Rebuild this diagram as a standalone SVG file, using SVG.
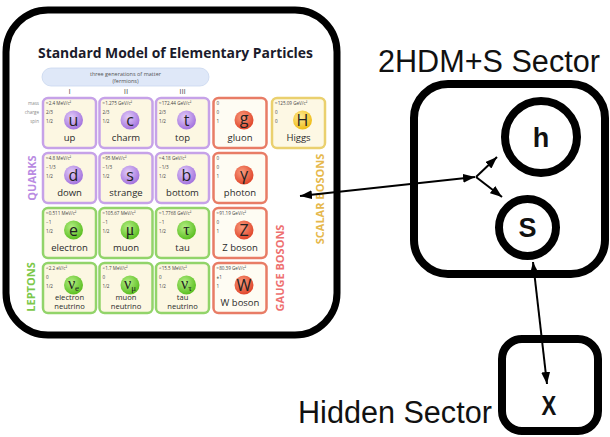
<svg xmlns="http://www.w3.org/2000/svg" width="610" height="437" viewBox="0 0 610 437">
<style>
.frame{fill:none;stroke:#000;stroke-width:7}
.frame8{fill:#fff;stroke:#000;stroke-width:8}
.big{font-family:"Liberation Sans",Arial,sans-serif;font-size:30.6px;fill:#111}
.sym2{font-family:"Liberation Sans",Arial,sans-serif;font-weight:bold;font-size:27px;fill:#111;text-anchor:middle}
.title{font-family:"Open Sans","Noto Sans",sans-serif;font-weight:bold;font-size:14.5px;fill:#1b1b2b}
.gen{font-family:"Open Sans","Noto Sans",sans-serif;font-size:5.5px;fill:#555;text-anchor:middle}
.rom{font-family:"Open Sans","Noto Sans",sans-serif;font-size:8px;fill:#555;text-anchor:middle}
.lab{font-family:"Open Sans","Noto Sans",sans-serif;font-size:4.5px;fill:#8a8a8a;text-anchor:end}
.m{font-family:"Open Sans","Noto Sans",sans-serif;font-size:4.6px;fill:#444}
.sym{font-family:"Open Sans","Noto Sans",sans-serif;font-size:16px;fill:#222;text-anchor:middle}
.gr{font-family:"Liberation Serif","DejaVu Serif",serif}
.nm{font-family:"Open Sans","Noto Sans",sans-serif;font-size:9.5px;fill:#2a2a2a;text-anchor:middle}
.nm2{font-family:"Open Sans","Noto Sans",sans-serif;font-size:7.6px;fill:#2a2a2a;text-anchor:middle}
.side{font-family:"Open Sans","Noto Sans",sans-serif;font-weight:bold;font-size:11px;text-anchor:middle}
.cq{fill:#fcf7e2;stroke:#c6a2e8;stroke-width:2.5}
.cl{fill:#fcf7e2;stroke:#92d46a;stroke-width:2.5}
.cg{fill:#fefcf3;stroke:#e87c66;stroke-width:2.5}
.ch{fill:#fdf8e4;stroke:#ead06e;stroke-width:2.5}
.conn{fill:none;stroke:#000;stroke-width:2}
</style>
<defs>
<radialGradient id="gq" cx="40%" cy="35%" r="65%"><stop offset="0" stop-color="#e2ccf8"/><stop offset="1" stop-color="#a474de"/></radialGradient>
<radialGradient id="gl" cx="40%" cy="35%" r="65%"><stop offset="0" stop-color="#b4ee84"/><stop offset="1" stop-color="#5cbf22"/></radialGradient>
<radialGradient id="gg" cx="40%" cy="35%" r="65%"><stop offset="0" stop-color="#fa9c7e"/><stop offset="1" stop-color="#e0472c"/></radialGradient>
<radialGradient id="gh" cx="40%" cy="35%" r="65%"><stop offset="0" stop-color="#feeb98"/><stop offset="1" stop-color="#efbd18"/></radialGradient>
<marker id="arr" viewBox="0 0 12 9" refX="12" refY="4.5" markerWidth="12" markerHeight="9" markerUnits="userSpaceOnUse" orient="auto-start-reverse"><path d="M0,0 L12,4.5 L0,9 z" fill="#000"/></marker>
</defs>
<rect width="610" height="437" fill="#fff"/>

<g id="sm-box">
<rect class="frame" x="6" y="10" width="331" height="325" rx="42"/>
<text class="title" x="38" y="58" textLength="275" lengthAdjust="spacingAndGlyphs">Standard Model of Elementary Particles</text>
<rect x="42" y="68" width="167" height="18" rx="9" fill="#dfe8f8" stroke="#c9d7ef" stroke-width="0.8"/>
<text class="gen" x="125.5" y="75.5">three generations of matter</text>
<text class="gen" x="125.5" y="82.5">(fermions)</text>
<text class="rom" x="69.5" y="94">I</text>
<text class="rom" x="126" y="94">II</text>
<text class="rom" x="182.5" y="94">III</text>
<text class="lab" x="39" y="105">mass</text>
<text class="lab" x="39" y="114">charge</text>
<text class="lab" x="39" y="123">spin</text>
<text class="side" fill="#b98be2" transform="translate(31.5,178) rotate(-90)" y="4">QUARKS</text>
<text class="side" fill="#7cc84a" transform="translate(31,287) rotate(-90)" y="4">LEPTONS</text>
<text class="side" fill="#ee7070" transform="translate(280,268) rotate(-90)" y="4">GAUGE BOSONS</text>
<text class="side" fill="#e6b84c" transform="translate(320,199) rotate(-90)" y="4">SCALAR BOSONS</text>
</g>

<g id="up" transform="translate(43,98)"><rect class="cq" width="53" height="50" rx="5"/><text class="m" x="3" y="7">≈2.4 MeV/c²</text><text class="m" x="3" y="16">2/3</text><text class="m" x="3" y="25">1/2</text><circle cx="30.5" cy="22" r="9.5" fill="url(#gq)"/><text class="sym" x="30.5" y="27.5">u</text><text class="nm" x="26.5" y="42.5">up</text></g>
<g id="charm" transform="translate(99.5,98)"><rect class="cq" width="53" height="50" rx="5"/><text class="m" x="3" y="7">≈1.275 GeV/c²</text><text class="m" x="3" y="16">2/3</text><text class="m" x="3" y="25">1/2</text><circle cx="30.5" cy="22" r="9.5" fill="url(#gq)"/><text class="sym" x="30.5" y="27.5">c</text><text class="nm" x="26.5" y="42.5">charm</text></g>
<g id="top" transform="translate(156,98)"><rect class="cq" width="53" height="50" rx="5"/><text class="m" x="3" y="7">≈172.44 GeV/c²</text><text class="m" x="3" y="16">2/3</text><text class="m" x="3" y="25">1/2</text><circle cx="30.5" cy="22" r="9.5" fill="url(#gq)"/><text class="sym" x="30.5" y="27.5">t</text><text class="nm" x="26.5" y="42.5">top</text></g>
<g id="gluon" transform="translate(213.5,98)"><rect class="cg" width="53" height="50" rx="5"/><text class="m" x="3" y="7">0</text><text class="m" x="3" y="16">0</text><text class="m" x="3" y="25">1</text><circle cx="30.5" cy="22" r="9.5" fill="url(#gg)"/><text class="sym" x="30.5" y="26">g</text><text class="nm" x="26.5" y="42.5">gluon</text></g>
<g id="higgs" transform="translate(272,98)"><rect class="ch" width="53" height="50" rx="5"/><text class="m" x="3" y="7">≈125.09 GeV/c²</text><text class="m" x="3" y="16">0</text><text class="m" x="3" y="25">0</text><circle cx="30.5" cy="22" r="9.5" fill="url(#gh)"/><text class="sym" x="30.5" y="27.5">H</text><text class="nm" x="26.5" y="42.5">Higgs</text></g>

<g id="down" transform="translate(43,153)"><rect class="cq" width="53" height="50" rx="5"/><text class="m" x="3" y="7">≈4.8 MeV/c²</text><text class="m" x="3" y="16">−1/3</text><text class="m" x="3" y="25">1/2</text><circle cx="30.5" cy="22" r="9.5" fill="url(#gq)"/><text class="sym" x="30.5" y="27.5">d</text><text class="nm" x="26.5" y="42.5">down</text></g>
<g id="strange" transform="translate(99.5,153)"><rect class="cq" width="53" height="50" rx="5"/><text class="m" x="3" y="7">≈95 MeV/c²</text><text class="m" x="3" y="16">−1/3</text><text class="m" x="3" y="25">1/2</text><circle cx="30.5" cy="22" r="9.5" fill="url(#gq)"/><text class="sym" x="30.5" y="27.5">s</text><text class="nm" x="26.5" y="42.5">strange</text></g>
<g id="bottom" transform="translate(156,153)"><rect class="cq" width="53" height="50" rx="5"/><text class="m" x="3" y="7">≈4.18 GeV/c²</text><text class="m" x="3" y="16">−1/3</text><text class="m" x="3" y="25">1/2</text><circle cx="30.5" cy="22" r="9.5" fill="url(#gq)"/><text class="sym" x="30.5" y="27.5">b</text><text class="nm" x="26.5" y="42.5">bottom</text></g>
<g id="photon" transform="translate(213.5,153)"><rect class="cg" width="53" height="50" rx="5"/><text class="m" x="3" y="7">0</text><text class="m" x="3" y="16">0</text><text class="m" x="3" y="25">1</text><circle cx="30.5" cy="22" r="9.5" fill="url(#gg)"/><text class="sym" x="30.5" y="27">γ</text><text class="nm" x="26.5" y="42.5">photon</text></g>

<g id="electron" transform="translate(43,208)"><rect class="cl" width="53" height="50" rx="5"/><text class="m" x="3" y="7">≈0.511 MeV/c²</text><text class="m" x="3" y="16">−1</text><text class="m" x="3" y="25">1/2</text><circle cx="30.5" cy="22" r="9.5" fill="url(#gl)"/><text class="sym" x="30.5" y="27.5">e</text><text class="nm" x="26.5" y="42.5">electron</text></g>
<g id="muon" transform="translate(99.5,208)"><rect class="cl" width="53" height="50" rx="5"/><text class="m" x="3" y="7">≈105.67 MeV/c²</text><text class="m" x="3" y="16">−1</text><text class="m" x="3" y="25">1/2</text><circle cx="30.5" cy="22" r="9.5" fill="url(#gl)"/><text class="sym gr" x="30.5" y="26.5">μ</text><text class="nm" x="26.5" y="42.5">muon</text></g>
<g id="tau" transform="translate(156,208)"><rect class="cl" width="53" height="50" rx="5"/><text class="m" x="3" y="7">≈1.7768 GeV/c²</text><text class="m" x="3" y="16">−1</text><text class="m" x="3" y="25">1/2</text><circle cx="30.5" cy="22" r="9.5" fill="url(#gl)"/><text class="sym gr" x="30.5" y="27">τ</text><text class="nm" x="26.5" y="42.5">tau</text></g>
<g id="zboson" transform="translate(213.5,208)"><rect class="cg" width="53" height="50" rx="5"/><text class="m" x="3" y="7">≈91.19 GeV/c²</text><text class="m" x="3" y="16">0</text><text class="m" x="3" y="25">1</text><circle cx="30.5" cy="22" r="9.5" fill="url(#gg)"/><text class="sym" x="30.5" y="27.5">Z</text><text class="nm" x="26.5" y="42.5">Z boson</text></g>

<g id="enu" transform="translate(43,263)"><rect class="cl" width="53" height="50" rx="5"/><text class="m" x="3" y="7">&lt;2.2 eV/c²</text><text class="m" x="3" y="16">0</text><text class="m" x="3" y="25">1/2</text><circle cx="30.5" cy="22" r="9.5" fill="url(#gl)"/><text class="sym gr" x="30.5" y="26" font-size="15">ν<tspan font-size="9" dy="2">e</tspan></text><text class="nm2" x="26.5" y="37">electron</text><text class="nm2" x="26.5" y="45.5">neutrino</text></g>
<g id="munu" transform="translate(99.5,263)"><rect class="cl" width="53" height="50" rx="5"/><text class="m" x="3" y="7">&lt;1.7 MeV/c²</text><text class="m" x="3" y="16">0</text><text class="m" x="3" y="25">1/2</text><circle cx="30.5" cy="22" r="9.5" fill="url(#gl)"/><text class="sym gr" x="30.5" y="26" font-size="15">ν<tspan font-size="9" dy="2">μ</tspan></text><text class="nm2" x="26.5" y="37">muon</text><text class="nm2" x="26.5" y="45.5">neutrino</text></g>
<g id="taunu" transform="translate(156,263)"><rect class="cl" width="53" height="50" rx="5"/><text class="m" x="3" y="7">&lt;15.5 MeV/c²</text><text class="m" x="3" y="16">0</text><text class="m" x="3" y="25">1/2</text><circle cx="30.5" cy="22" r="9.5" fill="url(#gl)"/><text class="sym gr" x="30.5" y="26" font-size="15">ν<tspan font-size="9" dy="2">τ</tspan></text><text class="nm2" x="26.5" y="37">tau</text><text class="nm2" x="26.5" y="45.5">neutrino</text></g>
<g id="wboson" transform="translate(213.5,263)"><rect class="cg" width="53" height="50" rx="5"/><text class="m" x="3" y="7">≈80.39 GeV/c²</text><text class="m" x="3" y="16">±1</text><text class="m" x="3" y="25">1</text><circle cx="30.5" cy="22" r="9.5" fill="url(#gg)"/><text class="sym" x="30.5" y="27.5">W</text><text class="nm" x="26.5" y="42.5">W boson</text></g>

<g id="sector-2hdm">
<text class="big" x="378" y="72">2HDM+S Sector</text>
<rect class="frame8" x="414" y="84" width="191" height="190" rx="34"/>
</g>
<g id="node-h"><circle cx="541" cy="137" r="36" fill="#fff" stroke="#000" stroke-width="8"/><text class="sym2" x="541" y="146.5" font-size="26">h</text></g>
<g id="node-s"><circle cx="527.5" cy="227.5" r="28.5" fill="#fff" stroke="#000" stroke-width="8"/><text class="sym2" x="527.5" y="237" font-size="26">S</text></g>
<g id="hidden">
<text class="big" x="298" y="423">Hidden Sector</text>
<rect class="frame8" x="502" y="339" width="96" height="92" rx="20"/>
<text class="sym2" transform="translate(549,415) scale(0.82,1)" font-size="31">X</text>
</g>

<g id="connectors">
<path class="conn" d="M300,196 L475,177" marker-start="url(#arr)" marker-end="url(#arr)"/>
<path class="conn" d="M476,177 L497,157" marker-end="url(#arr)"/>
<path class="conn" d="M476,177 L502,197" marker-end="url(#arr)"/>
<path class="conn" d="M533,262 L547,384" marker-start="url(#arr)" marker-end="url(#arr)"/>
</g>
</svg>
